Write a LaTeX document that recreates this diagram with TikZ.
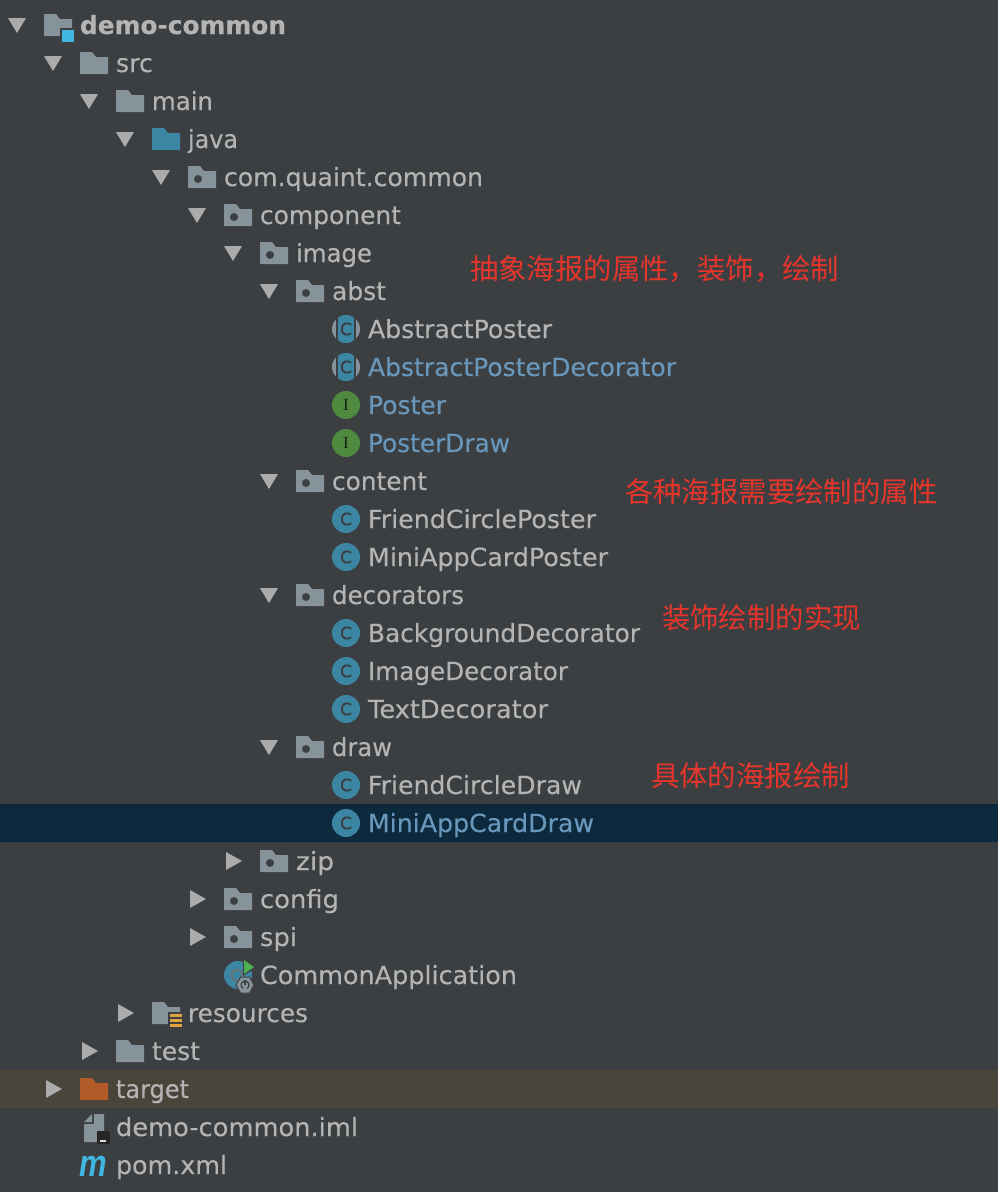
\documentclass[tikz,border=0pt]{standalone}
\usepackage{fontspec}
\usepackage{graphicx}
\setmainfont{DejaVu Sans}[FakeBold=0.25]
\newfontfamily\cjkfont{Noto Sans CJK SC}
\newfontfamily\iconserif{Liberation Serif}
\newfontfamily\iconsans{DejaVu Sans}[FakeBold=0.6]
\newfontfamily\pomfont{Liberation Sans}
\definecolor{bgc}{HTML}{3C3F41}
\definecolor{selc}{HTML}{0D293E}
\definecolor{bandc}{HTML}{49453B}
\definecolor{txtc}{HTML}{B4B4B4}
\definecolor{bluetxt}{HTML}{6897BB}
\definecolor{redc}{HTML}{E8352B}
\definecolor{foldc}{HTML}{87939A}
\definecolor{javac}{HTML}{3D86A3}
\definecolor{orangec}{HTML}{B25A28}
\definecolor{arrowc}{HTML}{ABABAB}
\definecolor{greenc}{HTML}{4F8A3E}
\definecolor{cyanc}{HTML}{40B6E0}
\definecolor{stripec}{HTML}{E0A53C}
\definecolor{runc}{HTML}{4CAF50}
\newlength{\fitlen}
% #1 target width in px, #2 text: the text is stretched sideways to that width
\newcommand{\fit}[2]{\settowidth{\fitlen}{#2}\pgfmathsetmacro{\fitratio}{#1/\fitlen}\scalebox{\fitratio}[1]{#2}}
\tikzset{
  x=1pt,y=-1pt,
  lab/.style={anchor=base west,inner sep=0pt,outer sep=0pt,text=txtc,font=\fontsize{25}{28}\selectfont},
  bluelab/.style={lab,text=bluetxt},
  boldlab/.style={lab,font=\fontsize{25}{28}\selectfont\bfseries},
  note/.style={anchor=base west,inner sep=0pt,outer sep=0pt,text=redc,font=\fontsize{28.4}{32}\selectfont\cjkfont},
  cicon/.style={circle,minimum size=28pt,inner sep=0pt,outer sep=0pt,fill=javac,text=bgc},
  iicon/.style={cicon,fill=greenc,text=black!75!greenc},
}
\newcommand{\fold}[3]{\fill[#3] (#1,#2+11) -- (#1,#2-11) -- (#1+12,#2-11) -- (#1+16,#2-6) -- (#1+28,#2-6) -- (#1+28,#2+11) -- cycle;}
\newcommand{\pkg}[2]{\fold{#1}{#2}{foldc}\fill[bgc] (#1+10,#2+2) circle (4);}
\newcommand{\tdown}[2]{\fill[arrowc] (#1-9,#2-7) -- (#1+9,#2-7) -- (#1,#2+8) -- cycle;}
\newcommand{\tright}[2]{\fill[arrowc] (#1-8,#2-9) -- (#1+8,#2) -- (#1-8,#2+9) -- cycle;}
\newcommand{\cee}{\fontsize{17}{17}\selectfont\iconsans C}
\newcommand{\cls}[5]{\node[cicon] (i#1) at (346,#2) {\cee};\node[#3] (#1) at (368,#2+9) {\fit{#4}{#5}};}
\newcommand{\abscls}[5]{\fill[foldc] (346,#2) circle (14);
  \fill[bgc] (336.3,#2-15) rectangle (355.7,#2+15);
  \begin{scope}\clip (346,#2) circle (14);\fill[javac] (338,#2-15) rectangle (354.2,#2+15);\end{scope}
  \node[inner sep=0pt,text=bgc] (i#1) at (346,#2) {\cee};\node[#3] (#1) at (368,#2+9) {\fit{#4}{#5}};}
\newcommand{\ifc}[5]{\node[iicon] (i#1) at (346,#2) {\fontsize{17}{17}\selectfont\iconserif I};\node[#3] (#1) at (368,#2+9) {\fit{#4}{#5}};}
\begin{document}
\begin{tikzpicture}
\useasboundingbox (0,0) rectangle (998,1192);
\fill[bgc] (0,0) rectangle (998,1192);
\fill[selc] (0,804) rectangle (998,842);
\fill[bandc] (0,1070) rectangle (998,1108);

\tdown{17}{25}\fold{44}{25}{foldc}
\fill[bgc] (60,28) rectangle (76,44);
\fill[cyanc] (62,30) rectangle (74,42);
\node[boldlab] (demo) at (80,34) {\fit{206}{demo-common}};
\tdown{53}{63}\fold{80}{63}{foldc}\node[lab] (src) at (116,72) {\fit{37}{src}};
\tdown{89}{101}\fold{116}{101}{foldc}\node[lab] (main) at (152,110) {\fit{61}{main}};
\tdown{125}{139}\fold{152}{139}{javac}\node[lab] (java) at (188,148) {\fit{50}{java}};
\tdown{161}{177}\pkg{188}{177}\node[lab] (comq) at (224,186) {\fit{259}{com.quaint.common}};
\tdown{197}{215}\pkg{224}{215}\node[lab] (component) at (260,224) {\fit{141}{component}};
\tdown{233}{253}\pkg{260}{253}\node[lab] (image) at (296,262) {\fit{76}{image}};
\tdown{269}{291}\pkg{296}{291}\node[lab] (abst) at (332,300) {\fit{54}{abst}};
\abscls{absp}{329}{lab}{184}{AbstractPoster}
\abscls{abspd}{367}{bluelab}{308}{AbstractPosterDecorator}
\ifc{poster}{405}{bluelab}{78}{Poster}
\ifc{posterd}{443}{bluelab}{142}{PosterDraw}
\tdown{269}{481}\pkg{296}{481}\node[lab] (content) at (332,490) {\fit{95}{content}};
\cls{fcp}{519}{lab}{228}{FriendCirclePoster}
\cls{macp}{557}{lab}{240}{MiniAppCardPoster}
\tdown{269}{595}\pkg{296}{595}\node[lab] (decorators) at (332,604) {\fit{132}{decorators}};
\cls{bgd}{633}{lab}{272}{BackgroundDecorator}
\cls{imd}{671}{lab}{200}{ImageDecorator}
\cls{txd}{709}{lab}{180}{TextDecorator}
\tdown{269}{747}\pkg{296}{747}\node[lab] (draw) at (332,756) {\fit{60}{draw}};
\cls{fcd}{785}{lab}{214}{FriendCircleDraw}
\cls{macd}{823}{bluelab}{226}{MiniAppCardDraw}
\tright{234}{861}\pkg{260}{861}\node[lab] (zip) at (296,870) {\fit{38}{zip}};
\tright{198}{899}\pkg{224}{899}\node[lab] (config) at (260,908) {\fit{79}{config}};
\tright{198}{937}\pkg{224}{937}\node[lab] (spi) at (260,946) {\fit{37}{spi}};
% application
\fill[javac] (238,975) circle (14);
\draw[foldc!60!bgc,line width=1.8pt] (237,975) circle (5.5);
\fill[bgc] (243,958) -- (257,967) -- (243,976) -- cycle;
\fill[runc] (244,960) -- (254,967) -- (244,974) -- cycle;
\fill[foldc,draw=bgc,line width=1pt] (254,985) -- (249.5,993) -- (240.5,993) -- (236,985) -- (240.5,977) -- (249.5,977) -- cycle;
\draw[bgc,line width=1.2pt] (245,979.8) -- (245,985);
\draw[bgc,line width=1.2pt] (245,985) ++(120:4) arc[start angle=120,end angle=420,radius=4];
\node[lab] (capp) at (260,984) {\fit{257}{CommonApplication}};
% resources
\tright{126}{1013}\fold{152}{1013}{foldc}
\fill[bgc] (168,1012) rectangle (184,1030);
\foreach \sy in {1014,1019,1024}{\fill[stripec] (170,\sy) rectangle (182,\sy+2.6);}
\node[lab] (res) at (188,1022) {\fit{120}{resources}};
\tright{90}{1051}\fold{116}{1051}{foldc}\node[lab] (test) at (152,1060) {\fit{48}{test}};
\tright{54}{1089}\fold{80}{1089}{orangec}\node[lab] (target) at (116,1098) {\fit{73}{target}};
% iml
\fill[foldc] (84,1124) -- (94,1124) -- (94,1114) -- (104,1114) -- (104,1142) -- (84,1142) -- cycle;
\fill[foldc] (84,1122) -- (92,1114) -- (92,1122) -- cycle;
\fill[black!85] (97,1131) rectangle (110,1144);
\fill[white!85!black] (100,1139.5) rectangle (106,1141.5);
\node[lab] (iml) at (116,1136) {\fit{242}{demo-common.iml}};
% pom
\node[anchor=base west,inner sep=0pt,text=cyanc,font=\fontsize{31}{31}\selectfont\pomfont\bfseries\itshape] (mglyph) at (79,1176) {\scalebox{1}[1.22]{m}};
\node[lab] (pom) at (116,1174) {\fit{111}{pom.xml}};
% notes
\node[note] (n1) at (470,279) {抽象海报的属性，装饰，绘制};
\node[note] (n2) at (625,502) {各种海报需要绘制的属性};
\node[note] (n3) at (662,628) {装饰绘制的实现};
\node[note] (n4) at (651,786) {具体的海报绘制};
\end{tikzpicture}
\end{document}
